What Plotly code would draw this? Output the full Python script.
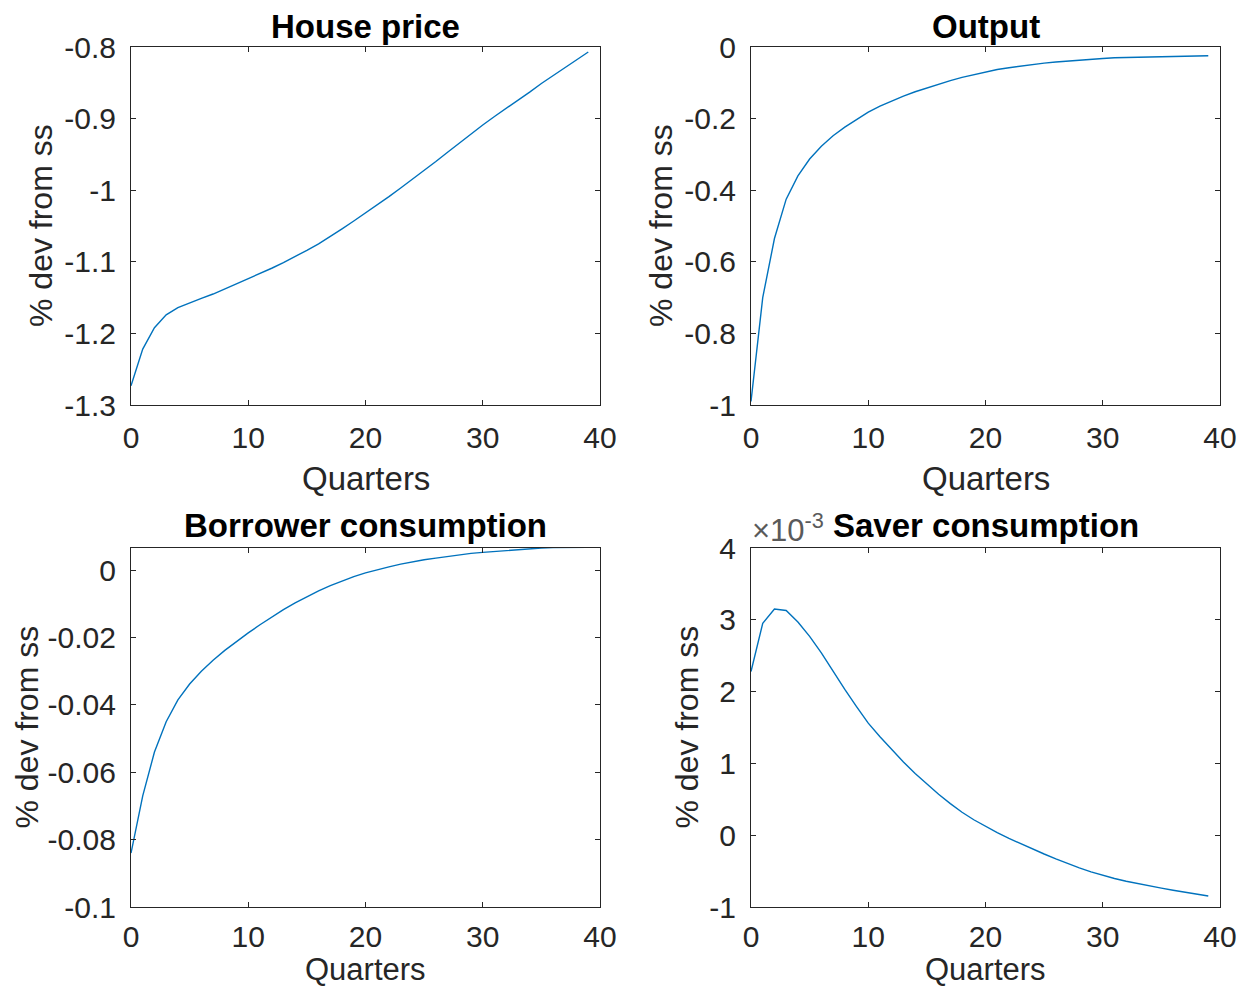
import plotly.graph_objects as go

quarters = list(range(40))

house_price = [-1.273, -1.222, -1.192, -1.174, -1.164, -1.157, -1.151, -1.145, -1.138, -1.131,
               -1.123, -1.116, -1.109, -1.101, -1.093, -1.084, -1.075, -1.065, -1.054, -1.043,
               -1.032, -1.020, -1.009, -0.997, -0.985, -0.972, -0.960, -0.947, -0.934, -0.922,
               -0.909, -0.897, -0.886, -0.874, -0.863, -0.851, -0.840, -0.829, -0.818, -0.807]

output = [-0.99, -0.70, -0.535, -0.425, -0.360, -0.313, -0.277, -0.248, -0.224, -0.202,
          -0.182, -0.165, -0.150, -0.137, -0.125, -0.114, -0.104, -0.094, -0.085, -0.077,
          -0.070, -0.063, -0.058, -0.053, -0.049, -0.045, -0.042, -0.039, -0.036, -0.034,
          -0.032, -0.030, -0.029, -0.028, -0.027, -0.026, -0.0255, -0.025, -0.025, -0.0245]

borrower_cons = [-0.084, -0.067, -0.054, -0.0450, -0.0385, -0.0338, -0.0300, -0.0267, -0.0238, -0.0211,
                 -0.0186, -0.0162, -0.0139, -0.0117, -0.0097, -0.0078, -0.0061, -0.0046, -0.0032, -0.0019,
                 -0.0008, 0.0002, 0.0010, 0.0018, 0.0025, 0.0031, 0.0036, 0.0041, 0.0046, 0.0050,
                 0.0053, 0.0056, 0.0059, 0.0062, 0.0064, 0.0066, 0.0067, 0.0068, 0.0068, 0.0068]

# saver consumption in units of 1e-3
saver_cons_e3 = [2.28, 2.95, 3.15, 3.13, 2.97, 2.77, 2.54, 2.28, 2.03, 1.79,
                 1.56, 1.37, 1.19, 1.02, 0.86, 0.71, 0.57, 0.44, 0.32, 0.215,
                 0.12, 0.035, -0.045, -0.121, -0.193, -0.262, -0.330, -0.394, -0.454, -0.510,
                 -0.560, -0.603, -0.641, -0.675, -0.707, -0.737, -0.766, -0.794, -0.821, -0.847]
saver_scale = 1e-3

titles = ["House price", "Output", "Borrower consumption", "Saver consumption"]
x_ticks = [0, 10, 20, 30, 40]
hp_ticks = [-1.3, -1.2, -1.1, -1.0, -0.9, -0.8]
hp_ticklabels = ["-1.3", "-1.2", "-1.1", "-1", "-0.9", "-0.8"]
out_ticks = [-1.0, -0.8, -0.6, -0.4, -0.2, 0.0]
out_ticklabels = ["-1", "-0.8", "-0.6", "-0.4", "-0.2", "0"]
bc_ticks = [-0.1, -0.08, -0.06, -0.04, -0.02, 0.0]
bc_ticklabels = ["-0.1", "-0.08", "-0.06", "-0.04", "-0.02", "0"]
sc_ticks_e3 = [-1, 0, 1, 2, 3, 4]
sc_ticklabels = ["-1", "0", "1", "2", "3", "4"]

PAGE_OFF = 8  # default body margin of the html page
W, H = 1251 - 2 * PAGE_OFF, 996 - 2 * PAGE_OFF
FONT = "Liberation Sans, Arial, Helvetica, sans-serif"
AXC = "#262626"
LINEC = "#0072BD"

# panel boxes in page pixels: (left, right, top, bottom)
boxes = [(131, 600, 47, 405), (751, 1220, 47, 405), (131, 600, 548, 907), (751, 1220, 548, 907)]

def px_x(x):
    return (x - PAGE_OFF) / W

def px_y(y):
    return 1 - (y - PAGE_OFF) / H

fig = go.Figure()

series = [house_price, output, borrower_cons, [v * saver_scale for v in saver_cons_e3]]
yranges = [[-1.3, -0.8], [-1.0, 0.0], [-0.1, 0.0066], [-1e-3, 4e-3]]
ytickvals = [hp_ticks, out_ticks, bc_ticks, [v * saver_scale for v in sc_ticks_e3]]
yticktexts = [hp_ticklabels, out_ticklabels, bc_ticklabels, sc_ticklabels]

layout_axes = {}
for i in range(4):
    xa = "x" if i == 0 else f"x{i+1}"
    ya = "y" if i == 0 else f"y{i+1}"
    fig.add_trace(go.Scatter(x=quarters, y=series[i], mode="lines",
                             line=dict(color=LINEC, width=1.4),
                             xaxis=xa, yaxis=ya, showlegend=False))
    l, r, t, b = boxes[i]
    common = dict(showline=True, linecolor=AXC, linewidth=1, mirror="ticks",
                  ticks="inside", ticklen=5, tickwidth=1, tickcolor=AXC,
                  showgrid=False, zeroline=False, automargin=False,
                  tickfont=dict(family=FONT, size=30, color=AXC))
    layout_axes["xaxis" if i == 0 else f"xaxis{i+1}"] = dict(
        domain=[px_x(l), px_x(r)], anchor=ya, range=[0, 40],
        tickvals=x_ticks, ticktext=[str(v) for v in x_ticks],
        ticklabelstandoff=6 if i < 2 else 3, **common)
    layout_axes["yaxis" if i == 0 else f"yaxis{i+1}"] = dict(
        domain=[px_y(b), px_y(t)], anchor=xa, range=yranges[i],
        tickvals=ytickvals[i], ticktext=yticktexts[i],
        ticklabelstandoff=8, **common)

annotations = []
title_y = [26, 26, 525, 525]
for i in range(4):
    l, r, t, b = boxes[i]
    annotations.append(dict(text=f"<b>{titles[i]}</b>", x=px_x((l + r) / 2), y=px_y(title_y[i]),
                            xref="paper", yref="paper", xanchor="center", yanchor="middle",
                            borderpad=0, showarrow=False,
                            font=dict(family=FONT, size=33, color="black")))
    if i < 2:
        xl = dict(y=px_y(478), yanchor="middle", font=dict(family=FONT, size=33, color=AXC))
    else:
        xl = dict(y=0, yanchor="bottom", font=dict(family=FONT, size=31, color=AXC))
    annotations.append(dict(text="Quarters", x=px_x((l + r) / 2),
                            xref="paper", yref="paper", xanchor="center",
                            borderpad=0, showarrow=False, **xl))

ylabel_x = [41, 661, 26, 686]
for i in range(4):
    l, r, t, b = boxes[i]
    annotations.append(dict(text="% dev from ss", x=px_x(ylabel_x[i]), y=px_y((t + b) / 2),
                            xref="paper", yref="paper", xanchor="center", yanchor="middle",
                            textangle=-90, showarrow=False,
                            font=dict(family=FONT, size=32, color=AXC)))

annotations.append(dict(text="×10<sup>-3</sup>", x=px_x(750), y=px_y(528),
                        xref="paper", yref="paper", xanchor="left", yanchor="middle",
                        showarrow=False, font=dict(family=FONT, size=31, color="#5a5a5a")))

fig.update_layout(width=W, height=H, margin=dict(l=0, r=0, t=0, b=0),
                  paper_bgcolor="white", plot_bgcolor="white",
                  annotations=annotations, **layout_axes)

fig.write_html("out.html", config={"displayModeBar": False})
